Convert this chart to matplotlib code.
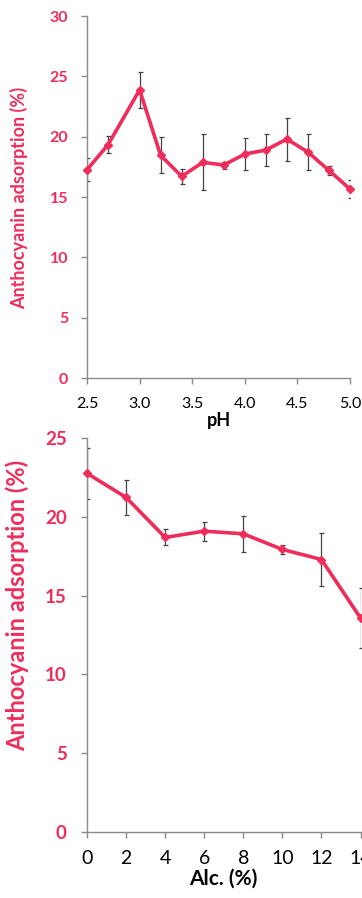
import matplotlib
matplotlib.use("Agg")
import matplotlib.pyplot as plt

# pH series
ph = [2.5, 2.7, 3.0, 3.2, 3.4, 3.6, 3.8, 4.0, 4.2, 4.4, 4.6, 4.8, 5.0]
ph_ads = [17.26, 19.33, 23.88, 18.45, 16.71, 17.87, 17.65, 18.56, 18.89, 19.8, 18.72, 17.2, 15.66]
ph_err = [0.96, 0.7, 1.49, 1.5, 0.65, 2.33, 0.29, 1.31, 1.36, 1.78, 1.47, 0.41, 0.76]
ph_xticks = [2.5, 3.0, 3.5, 4.0, 4.5, 5.0]
ph_yticks = [0, 5, 10, 15, 20, 25, 30]

# alcohol series
alc = [0, 2, 4, 6, 8, 10, 12, 14]
alc_ads = [22.76, 21.23, 18.69, 19.09, 18.92, 17.93, 17.29, 13.58]
alc_err = [1.6, 1.13, 0.51, 0.61, 1.13, 0.3, 1.66, 1.91]
alc_xticks = [0, 2, 4, 6, 8, 10, 12, 14]
alc_yticks = [0, 5, 10, 15, 20, 25]

PINK = "#EE2D5B"
SPINE = "#8a8a8a"
plt.rcParams["font.family"] = ["Lato", "DejaVu Sans"]

W, H = 362, 898
fig = plt.figure(figsize=(W / 100, H / 100), dpi=100)


def fig_rect(left, top, right, bottom):
    return [left / W, 1 - bottom / H, (right - left) / W, (bottom - top) / H]


def style(ax, ytick_size, xtick_size, ypad, xpad):
    for s in ("top", "right"):
        ax.spines[s].set_visible(False)
    for s in ("left", "bottom"):
        ax.spines[s].set_color(SPINE)
        ax.spines[s].set_linewidth(1.0)
    ax.tick_params(axis="both", direction="out", length=4.5, width=1.0, color=SPINE)
    ax.tick_params(axis="y", labelsize=ytick_size, labelcolor=PINK, pad=ypad)
    ax.tick_params(axis="x", labelsize=xtick_size, labelcolor="black", pad=xpad)
    for lab in ax.get_yticklabels():
        lab.set_fontweight("bold")


def draw(ax, x, y, err):
    ax.errorbar(x, y, yerr=err, fmt="none", ecolor="#444444", elinewidth=0.9,
                capsize=1.8, capthick=0.9, zorder=2)
    ax.plot(x, y, color=PINK, lw=2.6, marker="D", ms=4.5, mec=PINK, mfc=PINK,
            zorder=3, clip_on=False)


# top panel: pH
ax1 = fig.add_axes(fig_rect(87, 16, 350, 378))
draw(ax1, ph, ph_ads, ph_err)
ax1.set_xlim(2.5, 5.0)
ax1.set_ylim(0, 30)
ax1.set_xticks(ph_xticks)
ax1.set_xticklabels([f"{v:.1f}" for v in ph_xticks])
ax1.set_yticks(ph_yticks)
style(ax1, 11.5, 11.5, 9, 9)
ax1.set_xlabel("pH", fontsize=13, fontweight="bold", labelpad=1)
ax1.set_ylabel("Anthocyanin adsorption (%)", fontsize=13, fontweight="bold", color=PINK)
ax1.yaxis.set_label_coords(-0.224, 0.497)

# bottom panel: alcohol
ax2 = fig.add_axes(fig_rect(87, 438, 360.5, 832))
draw(ax2, alc, alc_ads, alc_err)
ax2.set_xlim(0, 14)
ax2.set_ylim(0, 25)
ax2.set_xticks(alc_xticks)
ax2.set_yticks(alc_yticks)
style(ax2, 13.5, 14, 10, 8.5)
ax2.set_xlabel("Alc. (%)", fontsize=15, fontweight="bold", labelpad=1)
ax2.set_ylabel("Anthocyanin adsorption (%)", fontsize=17, fontweight="bold", color=PINK)
ax2.yaxis.set_label_coords(-0.212, 0.574)

fig.savefig("out.png", dpi=100)
